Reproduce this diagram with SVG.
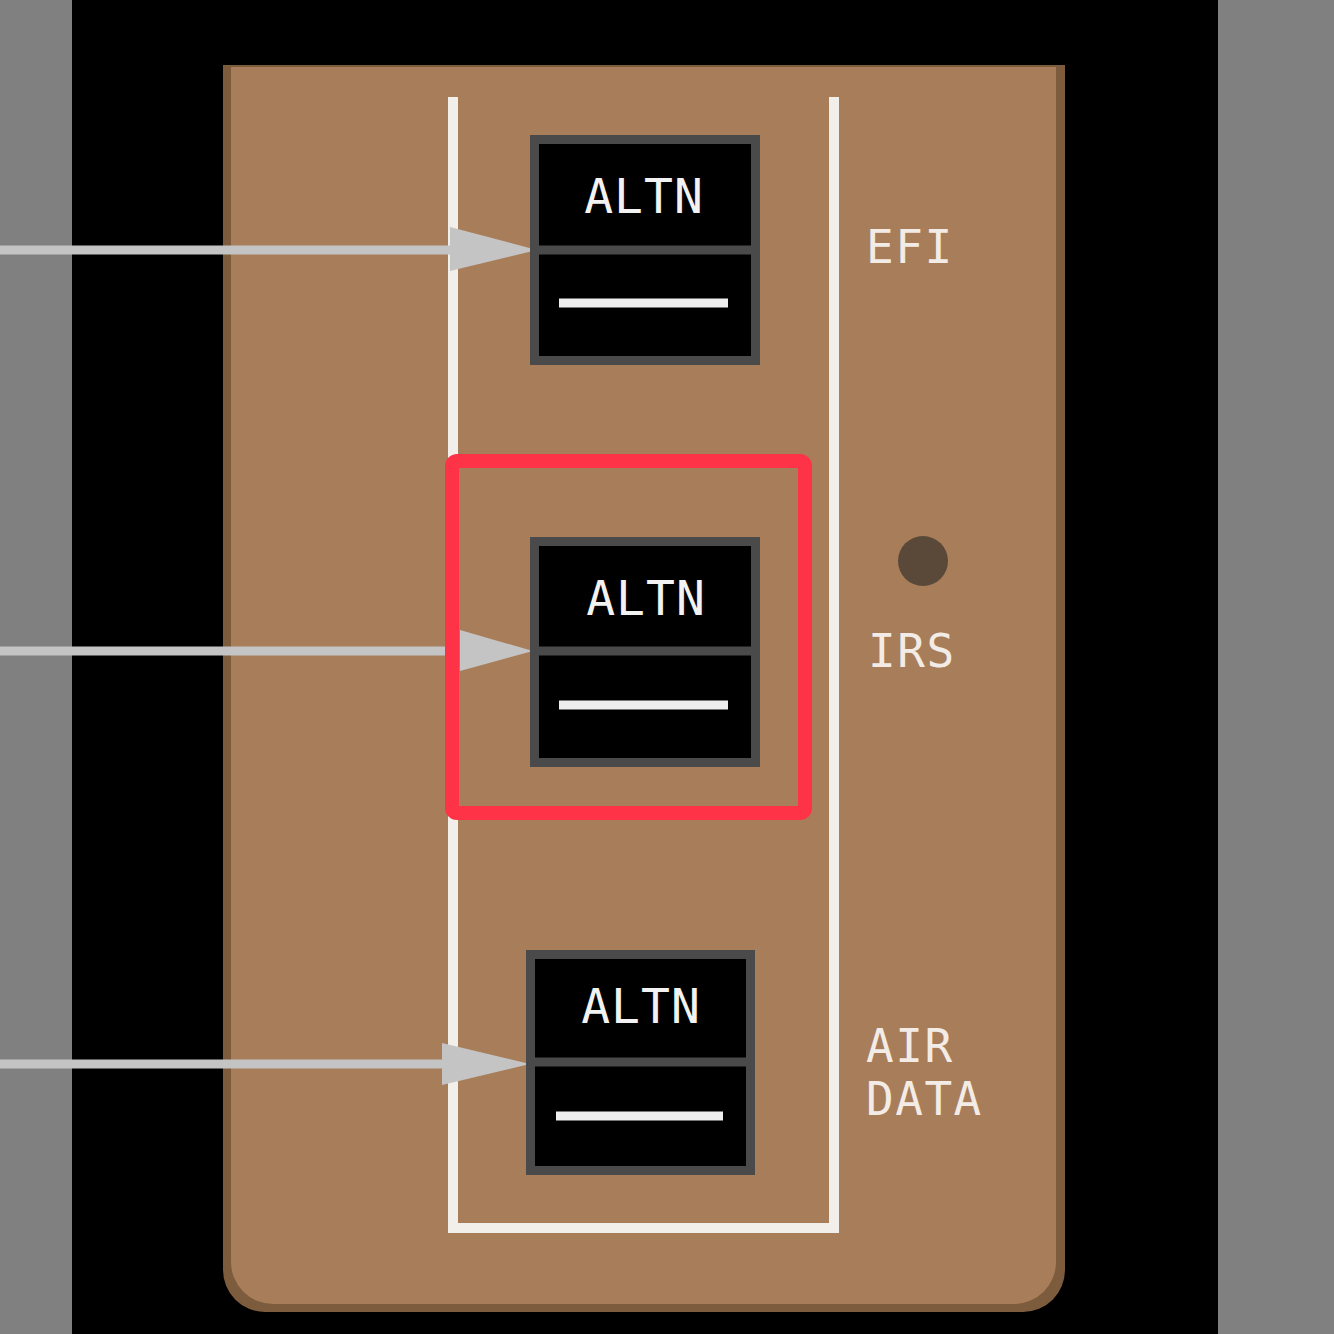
<svg xmlns="http://www.w3.org/2000/svg" width="1334" height="1334" viewBox="0 0 1334 1334">
<defs>
<style>
.sw{fill:#000;stroke:#4a4a4a;stroke-width:9}
.div{stroke:#4a4a4a;stroke-width:9}
.bar{stroke:#eeeeee;stroke-width:9}
.altn{font-family:"DejaVu Sans Mono",monospace;font-size:48px;fill:#f2f2f2;text-anchor:middle;letter-spacing:1px}
.lbl{font-family:"DejaVu Sans Mono",monospace;font-size:46px;fill:#f3ece6;letter-spacing:1.5px}
.conn{stroke:#c4c4c4;stroke-width:9;fill:none}
.head{fill:#c4c4c4}
.bracket{stroke:#f2eeea;stroke-width:10;fill:none}
</style>
</defs>
<rect x="0" y="0" width="1334" height="1334" fill="#808080"/>
<rect x="72" y="0" width="1146" height="1334" fill="#000"/>
<g id="panel">
<path d="M223 65 H1065 V1270 A42 42 0 0 1 1023 1312 H265 A42 42 0 0 1 223 1270 Z" fill="#7d5c3d"/>
<path d="M231 67 H1056 V1262 A42 42 0 0 1 1014 1304 H273 A42 42 0 0 1 231 1262 Z" fill="#a87d5a"/>
</g>
<g id="bracket">
<path class="bracket" d="M453 97 V1228 H834 V97"/>
</g>
<g id="connectors">
<line class="conn" x1="0" y1="250" x2="455" y2="250"/>
<polygon class="head" points="450,227 537,250 450,271"/>
<line class="conn" x1="0" y1="651" x2="450" y2="651"/>
<polygon class="head" points="460,630 533,651 460,671"/>
<line class="conn" x1="0" y1="1064" x2="445" y2="1064"/>
<polygon class="head" points="442,1043 530,1064 442,1085"/>
</g>
<g id="switch-efi">
<rect class="sw" x="534.500" y="139.500" width="221" height="221"/>
<line class="div" x1="534" y1="250" x2="756" y2="250"/>
<text class="altn" x="644" y="213">ALTN</text>
<line class="bar" x1="559" y1="303" x2="728" y2="303"/>
</g>
<g id="switch-irs">
<rect class="sw" x="534.500" y="541.500" width="221" height="221"/>
<line class="div" x1="534" y1="651" x2="756" y2="651"/>
<text class="altn" x="646" y="615">ALTN</text>
<line class="bar" x1="559" y1="705" x2="728" y2="705"/>
</g>
<g id="switch-airdata">
<rect class="sw" x="530.500" y="954.500" width="220" height="216"/>
<line class="div" x1="530" y1="1062" x2="751" y2="1062"/>
<text class="altn" x="641" y="1023">ALTN</text>
<line class="bar" x1="556" y1="1116" x2="723" y2="1116"/>
</g>
<g id="highlight">
<rect x="452" y="461" width="353" height="352" rx="5" fill="none" stroke="#ff3347" stroke-width="14"/>
</g>
<g id="labels">
<text class="lbl" x="866" y="263">EFI</text>
<circle cx="923" cy="561" r="25" fill="#5a4838"/>
<text class="lbl" x="868" y="667">IRS</text>
<text class="lbl" x="866" y="1062">AIR</text>
<text class="lbl" x="866" y="1115">DATA</text>
</g>
</svg>
